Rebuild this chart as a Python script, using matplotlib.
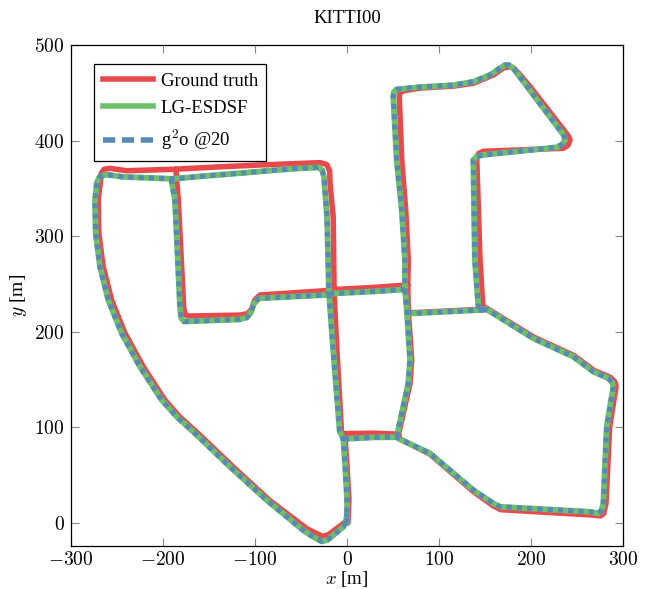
import numpy as np
import matplotlib
matplotlib.use('Agg')
import matplotlib.pyplot as plt
from matplotlib.lines import Line2D
from matplotlib.ticker import FuncFormatter

plt.rcParams['font.family'] = 'serif'
plt.rcParams['font.serif'] = ['Liberation Serif', 'DejaVu Serif']
plt.rcParams['mathtext.fontset'] = 'cm'

nan = np.nan

# estimated trajectory (LG-ESDSF), pieces separated by nan
est_x = [0, 0, -2, -4, -8, -15, -19.6, -21.7, -25, -27, -31, -60, -116, -160, -189, -214, -243,
         -262, -269, -272, -273.9, -273.2, -268.5, -259.4, -244.9, -225, -201.4, -185.1, -165.2,
         -127.2, -87.3, -45.7, -33, -27, -21, -4, -1, 0, nan,
         -190, -190.6, -187, -181.5, -180, -177, -116.3, -109, -104.5, -101.5, -96, -23.9, -19.6, nan,
         -19.6, -16.6, 30, 63, 63, 59.5, 54, 50.3, 51, 54, 80, 115.6, 137.3, 155.4, 166, 171.7, 176,
         180.8, 231.5, 236, 237, 234, 228, 148, 141, 137.3, 139, 142.7, 143.5,
         151.8, 202.5, 246, 267.7, 284, 288, 289.5, 282.3, 278.6, 276.5, 273.2, 264, 166.3, 159,
         137.3, 90.2, 57.6, 54, 28.6, -4, nan,
         63, 65, 68.5, 66.6, 54, nan,
         65, 72, 144.6, 151.8]
est_y = [0, 25, 60, 88, 96, 181, 240.6, 320, 362, 369, 372, 370.5, 366, 362.5, 360, 361, 362,
         364.5, 362, 356, 337.9, 303, 268, 233, 198.4, 163.5, 128.7, 111.2, 93.8,
         58.9, 24, -9, -16.5, -19.3, -17.5, -4, 2, 10, nan,
         360, 357, 338, 225, 214, 210.8, 213, 215, 220, 229, 235, 238.5, 240.6, nan,
         240.6, 240, 242.3, 244.4, 275, 327.4, 379.7, 446, 451, 453.6, 456, 458, 461.6, 468.6, 475.5, 479, 479,
         475.6, 411, 405, 400.6, 396, 393, 385, 383.5, 379.7, 275, 228, 223,
         223.5, 193.2, 174, 158.3, 151.4, 147.5, 142.6, 100.7, 20.6, 13, 10.1, 11.8, 17, 20.6,
         34.5, 72.9, 87.6, 89.8, 89.6, 87.9, nan,
         244.4, 222.8, 170.5, 146, 90.3, nan,
         221, 219.3, 222.8, 223.5]

# g2o @20 follows the same estimate
g2o_x = list(est_x)
g2o_y = list(est_y)

# ground truth
gt_x = [1, 2, 0, -2, -6, -11, -14, -15, -18.5, -18.8, -22, -29.3, -60, -94.6, -140, -188.8, -239.5,
        -257.6, -264, -267, -270.5, -269.8, -265, -255.8, -241.3, -221.4, -198, -182, -162,
        -124, -84.5, -43.5, -32, -26, -20, -6, 0, 1, nan,
        -186, -185, -183.4, -177.5, -176, -172, -116.3, -108, -103.5, -100.5, -94.6, -23.9, -16, nan,
        -16, -11, 30, 66, 66.6, 63.8, 59.5, 56.8, 57.5, 61, 80, 115.6, 137.3, 159, 170, 177.2, 181,
        186, 199, 237, 241, 242.4, 240, 235, 148, 143, 141, 144.6, 147.5, 149, 152,
        203, 247, 268.5, 286, 291, 292.5, 285.5, 281.5, 279, 275.5, 265, 167, 159,
        137.3, 90.2, 57.6, 55.8, 28.6, -4, -6, nan,
        66, 66.6, 70.3, 68.5, 55.8, nan,
        67, 72, 145, 152]
gt_y = [0, 25, 60, 88, 95.5, 181, 240, 320, 355.6, 368, 375, 376.9, 375.8, 374.5, 372.5, 370, 368.5,
        371, 370, 366, 338, 303, 268, 233, 198.4, 163.5, 128.7, 111.2, 93.8,
        58.9, 24, -6, -11.5, -14, -12, -2, 3, 10, nan,
        370, 357, 338, 225, 218, 216.5, 217.5, 219, 224, 233, 238.5, 243, 244.4, nan,
        244.4, 244.4, 246.5, 249, 275, 327.4, 379.7, 446, 450, 452, 455, 457, 460, 468.6, 476, 477.3, 476,
        471, 456.4, 409.3, 404, 400.6, 395, 392, 388.8, 386.5, 381.5, 275, 228, 225, 224.5,
        194.5, 175, 159.5, 152.5, 148, 143, 100.7, 20.6, 10, 7.5, 8.5, 14, 18,
        33, 72, 88, 93, 94, 93.5, 95.5, nan,
        249, 222.8, 170.5, 146, 92, nan,
        221, 220, 223.5, 224.5]

c_gt = '#E84A4C'
c_est = '#6DBF6C'
c_g2o = '#5889B4'

fig = plt.figure(figsize=(6.47, 5.89), dpi=100)
ax = fig.add_axes([71 / 647, 1 - 546 / 589, 552 / 647, 501 / 589])

ax.plot(gt_x, gt_y, color=c_gt, lw=4.0, solid_joinstyle='round', solid_capstyle='round', zorder=2)
ax.plot(est_x, est_y, color=c_est, lw=4.2, solid_joinstyle='round', solid_capstyle='round', zorder=3)
ax.plot(g2o_x, g2o_y, color=c_g2o, lw=3.7, linestyle=(0, (1.0, 1.0)), dash_joinstyle='round', zorder=4)

ax.set_xlim(-300, 300)
ax.set_ylim(-24, 500)
ax.set_xticks([-300, -200, -100, 0, 100, 200, 300])
ax.set_yticks([0, 100, 200, 300, 400, 500])
fmt = FuncFormatter(lambda v, p: f'${v:g}$')
ax.xaxis.set_major_formatter(fmt)
ax.yaxis.set_major_formatter(fmt)
ax.tick_params(direction='in', length=6, width=0.8, color='#888888', labelsize=14,
               top=True, right=True, pad=4.5)
ax.tick_params(axis='x', pad=3.5)
for s in ax.spines.values():
    s.set_linewidth(0.9)
    s.set_color('black')

ax.set_xlabel(r'$x$ [m]', fontsize=13.5)
ax.xaxis.set_label_coords(0.5, -0.045)
ax.set_ylabel(r'$y$ [m]', fontsize=14, labelpad=4)
ax.set_title('KITTI00', fontsize=13.5, pad=16)

handles = [Line2D([], [], color=c_gt, lw=4.0),
           Line2D([], [], color=c_est, lw=4.0),
           Line2D([], [], color=c_g2o, lw=4.0, linestyle=(0, (2.2, 1.2)))]
labels = ['Ground truth', 'LG-ESDSF', r'g$^2$o @20']
leg = ax.legend(handles, labels, loc='upper left', bbox_to_anchor=(0.042, 0.962), borderaxespad=0,
                fontsize=13.5, handlelength=2.7, handletextpad=0.4, labelspacing=0.55,
                borderpad=0.45, fancybox=False, framealpha=1, edgecolor='black')
leg.get_frame().set_linewidth(0.9)

fig.savefig('out.png', dpi=100)
